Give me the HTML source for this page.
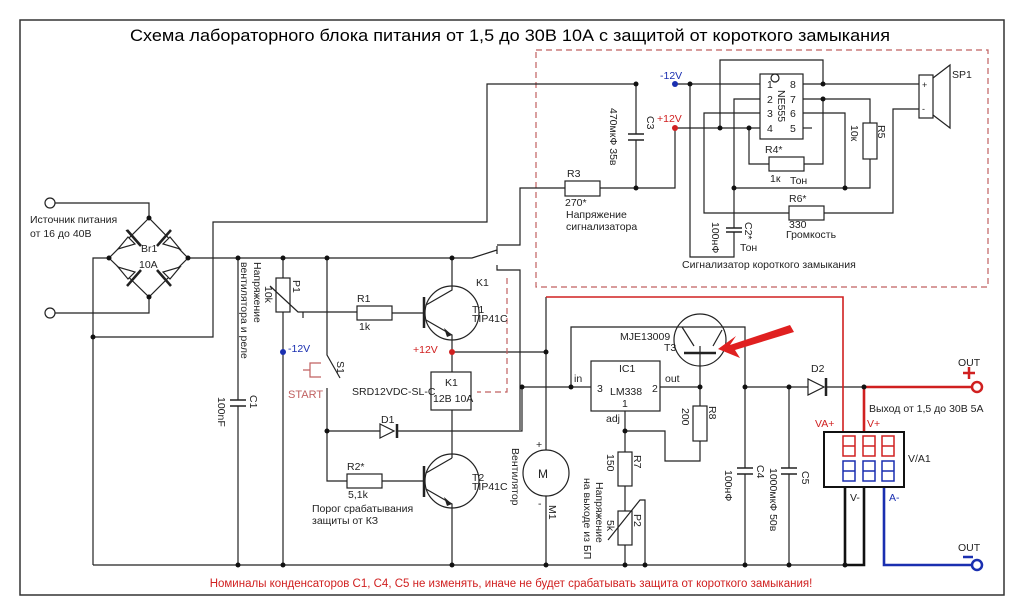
<!DOCTYPE html>
<html><head><meta charset="utf-8"><style>
html,body{margin:0;padding:0;background:#fff;}
svg{display:block;font-family:"Liberation Sans",sans-serif;}
</style></head><body>
<svg width="1024" height="616" viewBox="0 0 1024 616" xmlns="http://www.w3.org/2000/svg">
<rect x="0" y="0" width="1024" height="616" fill="#fff"/>
<rect x="20" y="20" width="984" height="575" fill="none" stroke="#333" stroke-width="1.5"/>
<text x="510" y="41" font-size="16.5" text-anchor="middle" textLength="760" lengthAdjust="spacingAndGlyphs" font-family="'Liberation Sans Narrow','Liberation Sans',sans-serif">Схема лабораторного блока питания от 1,5 до 30В 10А с защитой от короткого замыкания</text>
<!-- dashed signaler box -->
<rect x="536" y="50" width="452" height="237" fill="none" stroke="#c06060" stroke-width="1.2" stroke-dasharray="6,4"/>
<g fill="none" stroke="#222" stroke-width="1.2">
<!-- input terminals + bridge -->
<circle cx="50" cy="203" r="5" fill="#fff"/><circle cx="50" cy="313" r="5" fill="#fff"/>
<path d="M55 203H149V218M55 313H149V297"/>
<path d="M149 218L109 258L149 297L188 258Z"/>
<path d="M109 258H93V565M188 258H472L497 250M497 246V254"/>
<path d="M93 337H213V222H487V84H636"/>
<!-- rail nodes and verticals -->
<path d="M238 258V400M238 406V565"/>
<path d="M283 258V278M283 312V565"/>
<rect x="276" y="278" width="14" height="34"/>
<path d="M270 286L298 312H303V318M303 312H357"/>
<rect x="357" y="306" width="35" height="14"/>
<path d="M392 313H424"/>
<path d="M327 258V355L340 378M327 388V481H347"/>
<rect x="347" y="474" width="35" height="14"/>
<path d="M382 481H424"/>
<!-- T1 -->
<circle cx="452" cy="313" r="27"/>
<path d="M452 258V290L426 305M426 320L452 335V372"/>
<!-- K1 coil -->
<rect x="431" y="372" width="40" height="38"/>
<path d="M452 410V458M327 431H380M397 431H522V387"/>
<!-- T2 -->
<circle cx="452" cy="481" r="27"/>
<path d="M452 458L426 473M426 489L452 504V565"/>
<!-- bottom ground -->
<path d="M93 565H845"/>
<!-- +12V line -->
<path d="M452 352H546"/>
<path d="M497 245H520V188H565M600 188H675V128M497 265V270H520V430"/>
<path d="M546 297V450M546 496V565"/>
<path d="M522 387H591M571 387V327H745V387"/>
<!-- IC1 -->
<rect x="591" y="361" width="69" height="50"/>
<path d="M660 387H700V406M700 441V461H665V431H625V452M625 411V452"/>
<rect x="693" y="406" width="14" height="35"/>
<rect x="618" y="452" width="14" height="34"/>
<rect x="618" y="511" width="14" height="34"/>
<path d="M625 486V511M625 545V565M608 540L640 500L645 500V565"/>
<!-- T3 -->
<circle cx="700" cy="340" r="26"/>
<path d="M700 387V346M682 327L694 346M713 346L722 330"/>
<!-- C4 C5 -->
<path d="M745 387V468M745 474V565M789 387V468M789 474V565"/>
<path d="M745 387H808M826 387H977"/>
<path d="M864 387V432"/>
<!-- motor -->
<circle cx="546" cy="473" r="23"/>
<!-- Signaler -->
<path d="M636 84V134M636 140V188"/>
<path d="M675 84H760M690 84V257H734V232M734 228V99H760"/>
<path d="M675 128H760M720 128V60H823V84M749 128V164H769M804 164H823V99"/>
<rect x="769" y="157" width="35" height="14"/>
<path d="M803 84H919M803 99H870V123M870 159V188H734M803 113H845V188"/>
<rect x="863" y="123" width="14" height="36"/>
<path d="M760 113H704V213H789M824 213H893V109H919"/>
<rect x="789" y="206" width="35" height="14"/>
<rect x="760" y="74" width="43" height="65"/>
<circle cx="775" cy="78" r="4"/>
<path d="M803 128H812"/>
<rect x="919" y="75" width="14" height="43"/>
<path d="M933 78L950 65V128L933 115"/>
</g>
<!-- resistor R3 -->
<rect x="565" y="181" width="35" height="15" fill="#fff" stroke="#222" stroke-width="1.2"/>
<!-- capacitor plates -->
<g stroke="#222" stroke-width="1.5">
<path d="M230 400H246M230 406H246"/>
<path d="M737 468H753M737 474H753M781 468H797M781 474H797"/>
<path d="M628 134H644M628 140H644M726 228H742M726 232H742"/>
</g>
<!-- diodes in bridge -->
<g fill="#fff" stroke="#222" stroke-width="1.2">
<path d="M118 249L128 237L135 244Z M126 230L140 246"/>
<path d="M180 249L170 237L163 244Z"/>
<path d="M118 267L128 279L135 272Z"/>
<path d="M180 267L170 279L163 272Z"/>
<path d="M380 424V438L394 431Z"/>
<path d="M808 379V395L824 387Z"/>
</g>
<g stroke="#222" stroke-width="2.5">
<path d="M127 230L141 246M157 246L171 230M127 286L141 270M157 270L171 286"/>
<path d="M424 297V328M424 466V497"/>
<path d="M397 424V438M826 378V396"/>
<path d="M684 353H716"/>
</g>
<path d="M452 335L444 328L447 337Z M452 504L444 497L447 506Z" fill="#222"/>
<!-- red arrow -->
<path d="M790 325L730 345L736 336L718 349L740 358L735 350L794 332Z" fill="#e02020"/>
<!-- red/blue wires -->
<g fill="none" stroke-width="2.6">
<path d="M546 297H843V432" stroke="#d02020" stroke-width="1.6"/>
<path d="M864 387H972M864 387V432" stroke="#d02020"/>
<path d="M845 487V565H864V487" stroke="#111"/>
<path d="M884 487V565H972" stroke="#1a2fb0"/>
</g>
<circle cx="977" cy="387" r="5" fill="#fff" stroke="#d02020" stroke-width="2.5"/>
<circle cx="977" cy="565" r="5" fill="#fff" stroke="#1a2fb0" stroke-width="2.5"/>
<path d="M963 373H975M969 367V379" stroke="#d02020" stroke-width="2.5"/>
<path d="M963 557H973" stroke="#1a2fb0" stroke-width="2.5"/>
<!-- V/A1 display -->
<rect x="824" y="432" width="80" height="55" fill="#fff" stroke="#111" stroke-width="2"/>
<g fill="none" stroke="#d02020" stroke-width="1.5">
<path d="M843 436h12v20h-12zM843 446h12M863 436h12v20h-12zM863 446h12M882 436h12v20h-12zM882 446h12"/>
</g>
<g fill="none" stroke="#1a2fb0" stroke-width="1.5">
<path d="M843 461h12v20h-12zM843 471h12M863 461h12v20h-12zM863 471h12M882 461h12v20h-12zM882 471h12"/>
</g>
<!-- dashed K1 link -->
<path d="M507 278V392H477" fill="none" stroke="#c06060" stroke-width="1.2" stroke-dasharray="6,4"/>
<!-- START button -->
<path d="M321 363H310V377H321M310 370H303" fill="none" stroke="#c06060" stroke-width="1.2"/>
<!-- nodes -->
<g fill="#111">
<circle cx="149" cy="218" r="2.5"/><circle cx="109" cy="258" r="2.5"/><circle cx="188" cy="258" r="2.5"/><circle cx="149" cy="297" r="2.5"/>
<circle cx="93" cy="337" r="2.5"/><circle cx="238" cy="258" r="2.5"/><circle cx="283" cy="258" r="2.5"/><circle cx="327" cy="258" r="2.5"/><circle cx="452" cy="258" r="2.5"/>
<circle cx="327" cy="431" r="2.5"/><circle cx="238" cy="565" r="2.5"/><circle cx="283" cy="565" r="2.5"/><circle cx="452" cy="565" r="2.5"/>
<circle cx="546" cy="352" r="2.5"/><circle cx="522" cy="387" r="2.5"/><circle cx="571" cy="387" r="2.5"/><circle cx="700" cy="387" r="2.5"/>
<circle cx="745" cy="387" r="2.5"/><circle cx="789" cy="387" r="2.5"/><circle cx="864" cy="387" r="2.5"/><circle cx="625" cy="431" r="2.5"/>
<circle cx="546" cy="565" r="2.5"/><circle cx="625" cy="565" r="2.5"/><circle cx="645" cy="565" r="2.5"/><circle cx="745" cy="565" r="2.5"/><circle cx="789" cy="565" r="2.5"/><circle cx="845" cy="565" r="2.5"/>
<circle cx="636" cy="84" r="2.5"/><circle cx="690" cy="84" r="2.5"/><circle cx="636" cy="188" r="2.5"/><circle cx="720" cy="128" r="2.5"/><circle cx="749" cy="128" r="2.5"/>
<circle cx="823" cy="84" r="2.5"/><circle cx="823" cy="99" r="2.5"/><circle cx="734" cy="188" r="2.5"/><circle cx="845" cy="188" r="2.5"/>
</g>
<circle cx="283" cy="352" r="3" fill="#1a2fb0"/><circle cx="675" cy="84" r="3" fill="#1a2fb0"/>
<circle cx="452" cy="352" r="3" fill="#d02020"/><circle cx="675" cy="128" r="3" fill="#d02020"/>
<!-- labels -->
<g font-size="10.5" fill="#222">
<text x="30" y="223">Источник питания</text><text x="30" y="237">от 16 до 40В</text>
<text x="141" y="252">Br1</text><text x="139" y="268">10А</text>
<text x="357" y="302">R1</text><text x="359" y="330">1k</text>
<text x="472" y="313">T1</text><text x="472" y="322">TIP41C</text>
<text x="476" y="286">K1</text>
<text x="445" y="386">K1</text><text x="433" y="402">12В 10А</text>
<text x="352" y="395">SRD12VDC-SL-C</text>
<text x="381" y="423">D1</text>
<text x="347" y="470">R2*</text><text x="348" y="498">5,1k</text>
<text x="472" y="481">T2</text><text x="472" y="490">TIP41C</text>
<text x="312" y="512">Порог срабатывания</text><text x="312" y="524">защиты от КЗ</text>
<text x="567" y="177">R3</text><text x="565" y="206">270*</text>
<text x="566" y="218">Напряжение</text><text x="566" y="230">сигнализатора</text>
<text x="765" y="153">R4*</text><text x="770" y="182">1к</text><text x="790" y="184">Тон</text>
<text x="789" y="202">R6*</text><text x="789" y="228">330</text><text x="786" y="238">Громкость</text>
<text x="740" y="251">Тон</text>
<text x="952" y="78">SP1</text>
<text x="682" y="268">Сигнализатор короткого замыкания</text>
<text x="767" y="88">1</text><text x="767" y="103">2</text><text x="767" y="117">3</text><text x="767" y="132">4</text>
<text x="790" y="88">8</text><text x="790" y="103">7</text><text x="790" y="117">6</text><text x="790" y="132">5</text>
<text x="922" y="88" font-size="9">+</text><text x="922" y="112" font-size="9">-</text>
<text x="619" y="372">IC1</text><text x="610" y="395">LM338</text><text x="597" y="392">3</text><text x="652" y="392">2</text><text x="622" y="407">1</text>
<text x="574" y="382">in</text><text x="665" y="382">out</text><text x="606" y="422">adj</text>
<text x="620" y="340">MJE13009</text><text x="664" y="351">T3</text>
<text x="811" y="372">D2</text>
<text x="869" y="412">Выход от 1,5 до 30В 5А</text>
<text x="908" y="462">V/A1</text>
<text x="850" y="501">V-</text>
<text x="958" y="366">OUT</text><text x="958" y="551">OUT</text>
<text x="536" y="448">+</text><text x="538" y="507">-</text>
<text x="538" y="478" font-size="12">M</text>
</g>
<g font-size="10.5" fill="#d02020">
<text x="815" y="427">VA+</text><text x="867" y="427">V+</text>
<text x="413" y="353">+12V</text><text x="657" y="122">+12V</text>
</g>
<g font-size="10.5" fill="#c06060"><text x="288" y="398" font-size="11">START</text></g>
<g font-size="10.5" fill="#1a2fb0">
<text x="288" y="352">-12V</text><text x="660" y="79">-12V</text><text x="889" y="501">A-</text>
</g>
<text x="511" y="587" font-size="11.5" fill="#d02020" text-anchor="middle">Номиналы конденсаторов С1, С4, С5 не изменять, иначе не будет срабатывать защита от короткого замыкания!</text>
<!-- rotated labels -->
<g font-size="10.5" fill="#222">
<text transform="translate(254,262) rotate(90)">Напряжение</text>
<text transform="translate(241,262) rotate(90)">вентилятора и реле</text>
<text transform="translate(293,280) rotate(90)">P1</text>
<text transform="translate(265,286) rotate(90)">10k</text>
<text transform="translate(250,395) rotate(90)">C1</text>
<text transform="translate(218,397) rotate(90)">100nF</text>
<text transform="translate(337,361) rotate(90)">S1</text>
<text transform="translate(512,448) rotate(90)">Вентилятор</text>
<text transform="translate(549,505) rotate(90)">M1</text>
<text transform="translate(634,455) rotate(90)">R7</text>
<text transform="translate(607,454) rotate(90)">150</text>
<text transform="translate(634,514) rotate(90)">P2</text>
<text transform="translate(607,520) rotate(90)">5k</text>
<text transform="translate(596,482) rotate(90)">Напряжение</text>
<text transform="translate(584,478) rotate(90)">на выходе из БП</text>
<text transform="translate(709,406) rotate(90)">R8</text>
<text transform="translate(682,408) rotate(90)">200</text>
<text transform="translate(757,465) rotate(90)">C4</text>
<text transform="translate(725,470) rotate(90)">100нФ</text>
<text transform="translate(802,471) rotate(90)">C5</text>
<text transform="translate(770,468) rotate(90)">1000мкФ 50в</text>
<text transform="translate(647,116) rotate(90)">C3</text>
<text transform="translate(610,108) rotate(90)">470мкФ 35в</text>
<text transform="translate(878,125) rotate(90)">R5</text>
<text transform="translate(851,125) rotate(90)">10к</text>
<text transform="translate(745,222) rotate(90)">C2*</text>
<text transform="translate(712,222) rotate(90)">100нФ</text>
<text transform="translate(778,90) rotate(90)">NE555</text>
</g>
</svg>
</body></html>
